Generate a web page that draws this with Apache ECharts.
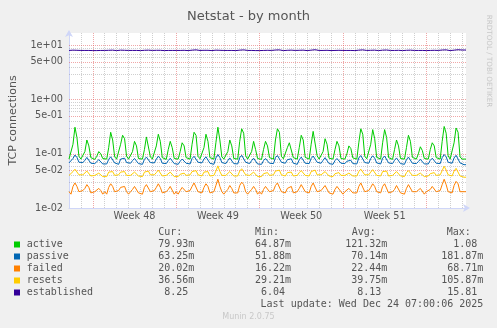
<!DOCTYPE html>
<html><head><meta charset="utf-8">
<script src="https://cdn.jsdelivr.net/npm/echarts@6.0.0/dist/echarts.min.js"></script>
<style>html,body{margin:0;padding:0;background:#f0f0f0}#c{width:497px;height:328px}</style>
</head><body><div id="c"></div><script>
// ---- data (4-hour samples, hours since Fri Nov 21 00:00) ----
const seriesNames = ['active', 'passive', 'failed', 'resets', 'established'];
const seriesColors = ['#00cc00', '#0066b3', '#ff8000', '#ffcc00', '#330099'];
const weekLabels = ['Week 48', 'Week 49', 'Week 50', 'Week 51'];
const weekCenters = [132, 300, 468, 636];
const weekStarts = [48, 216, 384, 552, 720];
const yLabelVals = [0.05, 0.5, 5];
const yMajorVals = [0.05, 0.1, 0.5, 1, 5, 10];
const yMinorVals = [0.02,0.03,0.04,0.06,0.07,0.08,0.09,0.2,0.3,0.4,0.6,0.7,0.8,0.9,2,3,4,6,7,8,9];
const curVals = ['79.93m', '63.25m', '20.02m', '36.56m', '8.25'];
const minVals = ['64.87m', '51.88m', '16.22m', '29.21m', '6.04'];
const avgVals = ['121.32m', '70.14m', '22.44m', '39.75m', '8.13'];
const maxVals = ['1.08', '181.87m', '68.71m', '105.87m', '15.81'];

const activeVals = [
0.080,0.079,0.150,0.310,0.200,0.090, 0.080,0.080,0.110,0.180,0.140,0.085, 0.080,0.079,0.090,0.110,0.100,0.082,
0.080,0.080,0.130,0.250,0.180,0.088, 0.080,0.080,0.150,0.220,0.190,0.090, 0.080,0.079,0.110,0.170,0.140,0.082,
0.081,0.080,0.120,0.205,0.190,0.088, 0.080,0.080,0.140,0.230,0.170,0.085, 0.080,0.079,0.120,0.170,0.130,0.082,
0.080,0.080,0.110,0.160,0.140,0.085, 0.080,0.080,0.150,0.250,0.220,0.090, 0.081,0.080,0.130,0.230,0.170,0.085,
0.080,0.080,0.160,0.310,0.180,0.088, 0.080,0.079,0.110,0.180,0.140,0.082, 0.080,0.080,0.170,0.290,0.240,0.092,
0.080,0.080,0.110,0.170,0.120,0.082, 0.080,0.079,0.120,0.170,0.140,0.085, 0.080,0.080,0.180,0.290,0.250,0.090,
0.081,0.080,0.130,0.160,0.150,0.085, 0.080,0.080,0.130,0.220,0.180,0.086, 0.080,0.080,0.150,0.260,0.250,0.092,
0.080,0.079,0.110,0.190,0.150,0.083, 0.080,0.080,0.120,0.170,0.140,0.082, 0.080,0.080,0.100,0.140,0.125,0.084,
0.080,0.080,0.160,0.290,0.230,0.090, 0.081,0.080,0.150,0.280,0.190,0.086, 0.080,0.080,0.160,0.280,0.200,0.085,
0.080,0.079,0.120,0.180,0.140,0.082, 0.080,0.080,0.130,0.220,0.170,0.086, 0.080,0.080,0.100,0.135,0.115,0.082,
0.080,0.080,0.120,0.160,0.140,0.085, 0.080,0.080,0.170,0.320,0.240,0.092, 0.080,0.080,0.160,0.300,0.250,0.088,
0.080,0.080,0.080];
const passiveVals = [
0.068,0.064,0.082,0.095,0.086,0.070, 0.066,0.069,0.076,0.086,0.080,0.067, 0.064,0.066,0.070,0.078,0.074,0.065,
0.066,0.065,0.079,0.088,0.084,0.068, 0.067,0.064,0.080,0.085,0.083,0.069, 0.065,0.067,0.075,0.082,0.077,0.066,
0.066,0.064,0.079,0.087,0.085,0.069, 0.065,0.068,0.080,0.090,0.082,0.067, 0.064,0.066,0.075,0.083,0.078,0.066,
0.066,0.064,0.073,0.080,0.078,0.067, 0.067,0.065,0.082,0.090,0.087,0.070, 0.065,0.068,0.080,0.088,0.082,0.067,
0.066,0.064,0.084,0.097,0.085,0.069, 0.064,0.066,0.075,0.084,0.078,0.066, 0.067,0.065,0.085,0.094,0.089,0.070,
0.065,0.066,0.075,0.083,0.077,0.065, 0.066,0.064,0.075,0.082,0.079,0.067, 0.067,0.066,0.085,0.093,0.089,0.070,
0.065,0.067,0.078,0.083,0.081,0.067, 0.066,0.064,0.078,0.087,0.082,0.067, 0.067,0.066,0.082,0.091,0.090,0.070,
0.065,0.067,0.076,0.085,0.080,0.066, 0.066,0.064,0.075,0.082,0.079,0.067, 0.064,0.066,0.073,0.079,0.076,0.066,
0.067,0.065,0.084,0.093,0.088,0.069, 0.066,0.067,0.082,0.092,0.083,0.068, 0.067,0.065,0.083,0.091,0.085,0.068,
0.065,0.066,0.076,0.084,0.079,0.066, 0.066,0.064,0.078,0.087,0.082,0.067, 0.064,0.066,0.072,0.079,0.075,0.065,
0.066,0.065,0.076,0.083,0.079,0.067, 0.067,0.066,0.085,0.097,0.088,0.070, 0.066,0.067,0.084,0.094,0.090,0.068,
0.064,0.063,0.063];
const failedVals = [
0.020,0.018,0.025,0.029,0.025,0.020, 0.019,0.021,0.023,0.027,0.024,0.019, 0.018,0.020,0.020,0.023,0.021,0.018,
0.020,0.018,0.024,0.028,0.025,0.020, 0.019,0.021,0.024,0.026,0.025,0.020, 0.018,0.020,0.022,0.025,0.023,0.019,
0.020,0.018,0.024,0.027,0.026,0.020, 0.019,0.021,0.024,0.028,0.024,0.019, 0.018,0.020,0.022,0.025,0.023,0.018,
0.020,0.018,0.021,0.024,0.023,0.020, 0.019,0.021,0.025,0.029,0.027,0.020, 0.020,0.019,0.024,0.028,0.025,0.019,
0.019,0.020,0.026,0.034,0.025,0.020, 0.018,0.020,0.022,0.026,0.023,0.019, 0.020,0.019,0.026,0.030,0.027,0.020,
0.018,0.020,0.022,0.025,0.022,0.018, 0.020,0.018,0.022,0.025,0.024,0.020, 0.019,0.021,0.026,0.029,0.027,0.020,
0.020,0.019,0.023,0.025,0.025,0.019, 0.018,0.020,0.023,0.027,0.025,0.020, 0.020,0.019,0.025,0.029,0.028,0.020,
0.019,0.021,0.022,0.026,0.024,0.019, 0.020,0.018,0.022,0.025,0.024,0.020, 0.018,0.020,0.021,0.023,0.022,0.019,
0.020,0.019,0.025,0.029,0.027,0.020, 0.019,0.021,0.024,0.028,0.025,0.020, 0.020,0.019,0.025,0.028,0.026,0.019,
0.018,0.020,0.022,0.026,0.024,0.019, 0.020,0.018,0.023,0.027,0.025,0.020, 0.019,0.020,0.021,0.023,0.022,0.018,
0.020,0.019,0.022,0.025,0.024,0.020, 0.019,0.021,0.027,0.034,0.027,0.020, 0.020,0.019,0.026,0.031,0.028,0.020,
0.019,0.020,0.020];
const resetsVals = [
0.040,0.038,0.047,0.052,0.048,0.041, 0.039,0.041,0.043,0.048,0.045,0.039, 0.038,0.040,0.041,0.044,0.042,0.038,
0.040,0.038,0.046,0.050,0.047,0.040, 0.039,0.041,0.046,0.048,0.047,0.040, 0.038,0.040,0.043,0.046,0.044,0.039,
0.040,0.038,0.046,0.049,0.048,0.041, 0.039,0.041,0.045,0.050,0.046,0.039, 0.038,0.040,0.043,0.046,0.044,0.038,
0.040,0.038,0.042,0.045,0.044,0.040, 0.039,0.041,0.047,0.051,0.049,0.041, 0.040,0.039,0.046,0.050,0.047,0.039,
0.039,0.040,0.048,0.060,0.047,0.040, 0.038,0.040,0.043,0.047,0.044,0.039, 0.040,0.039,0.048,0.053,0.050,0.041,
0.038,0.040,0.043,0.046,0.043,0.038, 0.040,0.038,0.043,0.046,0.045,0.040, 0.039,0.041,0.048,0.052,0.050,0.041,
0.040,0.039,0.045,0.046,0.046,0.039, 0.038,0.040,0.045,0.049,0.046,0.040, 0.040,0.039,0.047,0.051,0.050,0.041,
0.039,0.041,0.043,0.047,0.045,0.039, 0.040,0.038,0.043,0.046,0.045,0.040, 0.038,0.040,0.042,0.044,0.043,0.039,
0.040,0.039,0.047,0.052,0.049,0.041, 0.039,0.041,0.046,0.051,0.047,0.040, 0.040,0.039,0.047,0.051,0.048,0.039,
0.038,0.040,0.043,0.047,0.045,0.039, 0.040,0.038,0.045,0.049,0.046,0.040, 0.039,0.040,0.042,0.044,0.042,0.038,
0.040,0.039,0.043,0.046,0.045,0.040, 0.039,0.041,0.049,0.059,0.050,0.041, 0.040,0.039,0.048,0.054,0.051,0.039,
0.038,0.037,0.037];
const establishedVals = [
8.10,8.05,8.20,8.50,8.15,8.10, 8.10,8.00,8.10,8.25,8.10,8.05, 8.05,8.00,8.05,8.15,8.10,8.05,
8.10,8.05,8.15,8.30,8.20,8.10, 8.05,8.00,8.20,8.35,8.15,8.10, 8.10,8.05,8.10,8.20,8.10,8.05,
8.05,8.00,8.15,8.30,8.20,8.10, 8.10,8.05,8.15,8.35,8.15,8.05, 8.05,8.00,8.10,8.25,8.10,8.05,
8.10,8.05,8.10,8.20,8.15,8.10, 8.05,8.00,8.20,8.40,8.30,8.10, 8.10,8.05,8.15,8.30,8.15,8.05,
8.05,8.00,8.20,8.45,8.15,8.10, 8.10,8.05,8.10,8.25,8.10,8.05, 8.05,8.00,8.20,8.40,8.30,8.10,
8.10,8.05,8.10,8.20,8.05,8.05, 8.05,8.00,8.10,8.20,8.15,8.10, 8.10,8.05,8.25,8.45,8.30,8.10,
8.05,8.00,8.15,8.25,8.20,8.05, 8.10,8.05,8.15,8.30,8.20,8.10, 8.05,8.00,8.20,8.40,8.35,8.10,
8.10,8.05,8.10,8.25,8.15,8.05, 8.05,8.00,8.10,8.20,8.15,8.10, 8.10,8.05,8.10,8.15,8.10,8.05,
8.05,8.00,8.20,8.40,8.30,8.10, 8.10,8.05,8.15,8.40,8.20,8.10, 8.05,8.00,8.20,8.40,8.25,8.05,
8.10,8.05,8.10,8.25,8.15,8.10, 8.05,8.00,8.15,8.30,8.20,8.05, 8.10,8.05,8.10,8.15,8.10,8.10,
8.05,8.00,8.10,8.20,8.15,8.05, 8.10,8.05,8.25,8.50,8.30,8.10, 8.05,8.00,8.20,8.45,8.35,8.10,
8.25,8.25,8.25];
const seriesVals = [activeVals, passiveVals, failedVals, resetsVals, establishedVals];
const stepHours = 4;

// ---- styling ----
const TXT = '#555555';
const AXIS_C = '#cfd6f8';
const MINOR_C = 'rgba(140,140,140,0.42)';
const MAJOR_C = 'rgba(225,80,80,0.5)';
const SANS = '"DejaVu Sans", sans-serif';
const MONO = '"DejaVu Sans Mono", monospace';

function sci(v) {
  const e = Math.floor(Math.log10(v) + 1e-9);
  const m = v / Math.pow(10, e);
  if (Math.abs(m - Math.round(m)) > 1e-6) return '';
  return Math.round(m) + 'e' + (e < 0 ? '-' : '+') + String(Math.abs(e)).padStart(2, '0');
}

const chart = echarts.init(document.getElementById('c'), null, {renderer: 'canvas'});

const markData = [];
yMinorVals.forEach(v => markData.push({yAxis: v, lineStyle: {color: MINOR_C, type: [1, 1], width: 1}}));
yMajorVals.forEach(v => {
  const item = {yAxis: v, lineStyle: {color: MAJOR_C, type: [1, 1], width: 1}};
  if (yLabelVals.indexOf(v) >= 0) {
    item.label = {show: true, position: 'start', distance: 6, formatter: sci(v), color: TXT, fontSize: 9.7, fontFamily: SANS};
  }
  markData.push(item);
});
weekStarts.forEach(h => markData.push({xAxis: h, lineStyle: {color: MAJOR_C, type: [1, 1], width: 1}}));

const splitColors = ['c', 'c', 'w', 'c', 'c', 'c', 'c'].map(k => k === 'w' ? 'rgba(0,0,0,0)' : MINOR_C);

const series = [{
  name: 'grid', type: 'line', data: [], silent: true, animation: false,
  markLine: {silent: true, symbol: 'none', z: 1, animation: false, label: {show: false}, data: markData}
}];
seriesVals.forEach((vals, si) => {
  series.push({
    name: seriesNames[si], type: 'line', xAxisIndex: 0, yAxisIndex: 0, z: 3,
    showSymbol: false, symbol: 'none', animation: false, silent: true,
    lineStyle: {color: seriesColors[si], width: 1},
    itemStyle: {color: seriesColors[si]},
    data: vals.map((v, i) => [i * stepHours, v])
  });
});

const graphics = [];
graphics.push({type: 'text', x: 488.5, y: 61, rotation: -Math.PI / 2, silent: true,
  style: {text: 'RRDTOOL / TOBI OETIKER', fill: '#c8c8c8', font: '7.2px ' + SANS, align: 'center', verticalAlign: 'middle'}});
const headers = ['Cur:', 'Min:', 'Avg:', 'Max:'];
const headerX = [158.3, 255, 351.7, 446.7];
const colRight = [194.3, 291, 387.3, 483.3];
headers.forEach((h, i) => graphics.push({type: 'text', x: headerX[i], y: 232.3, silent: true,
  style: {text: h, fill: TXT, font: '10px ' + MONO, align: 'left', verticalAlign: 'middle'}}));
seriesNames.forEach((name, i) => {
  const y = 244.5 + i * 12;
  graphics.push({type: 'rect', shape: {x: 14, y: y - 3, width: 6, height: 6}, silent: true, style: {fill: seriesColors[i]}});
  graphics.push({type: 'text', x: 26.7, y: y, silent: true,
    style: {text: name, fill: TXT, font: '10px ' + MONO, align: 'left', verticalAlign: 'middle'}});
  [curVals, minVals, avgVals, maxVals].forEach((arr, c) => {
    const v = arr[i];
    graphics.push({type: 'text', x: colRight[c], y: y, silent: true,
      style: {text: /m$/.test(v) ? v : v + ' ', fill: TXT, font: '10px ' + MONO, align: 'right', verticalAlign: 'middle'}});
  });
});
graphics.push({type: 'text', x: 483.3, y: 304.5, silent: true,
  style: {text: 'Last update: Wed Dec 24 07:00:06 2025', fill: TXT, font: '10px ' + MONO, align: 'right', verticalAlign: 'middle'}});
graphics.push({type: 'text', x: 248.5, y: 316.7, silent: true,
  style: {text: 'Munin 2.0.75', fill: '#c8c8c8', font: '8px ' + SANS, align: 'center', verticalAlign: 'middle'}});

chart.setOption({
  backgroundColor: '#f0f0f0',
  animation: false,
  title: {text: 'Netstat - by month', left: 'center', top: 5,
    textStyle: {fontSize: 13, fontWeight: 'normal', color: TXT, fontFamily: SANS}},
  grid: {left: 66, top: 33, width: 400, height: 175, show: true, backgroundColor: '#ffffff', borderWidth: 0, containLabel: false},
  xAxis: [{
    type: 'value', min: 0, max: 800, interval: 24, position: 'bottom',
    axisLine: {show: true, onZero: false, lineStyle: {color: AXIS_C, width: 1}, symbol: ['none', 'arrow'], symbolSize: [6, 7], symbolOffset: [0, 4]},
    axisTick: {show: false}, axisLabel: {show: false},
    splitLine: {show: true, showMaxLine: false, lineStyle: {color: splitColors, type: [1, 1], width: 1}}
  }, {
    type: 'value', min: 0, max: 800, interval: 12, position: 'bottom',
    axisLine: {show: false}, axisTick: {show: false}, splitLine: {show: false},
    axisLabel: {show: true, margin: 3, color: TXT, fontSize: 9.7, fontFamily: SANS,
      formatter: v => { const k = weekCenters.indexOf(v); return k >= 0 ? weekLabels[k] : ''; }}
  }],
  yAxis: [{
    type: 'log', logBase: 10, min: 0.01, max: 17,
    axisLine: {show: true, onZero: false, lineStyle: {color: AXIS_C, width: 1}, symbol: ['none', 'arrow'], symbolSize: [6, 7], symbolOffset: [0, 3]},
    axisTick: {show: false}, splitLine: {show: false},
    axisLabel: {show: true, margin: 6, color: TXT, fontSize: 9.7, fontFamily: SANS, showMaxLabel: false, formatter: v => sci(v)},
    name: 'TCP connections', nameLocation: 'middle', nameGap: 50,
    nameTextStyle: {color: TXT, fontSize: 11, fontFamily: SANS}
  }],
  series: series,
  graphic: graphics
});
</script></body></html>
